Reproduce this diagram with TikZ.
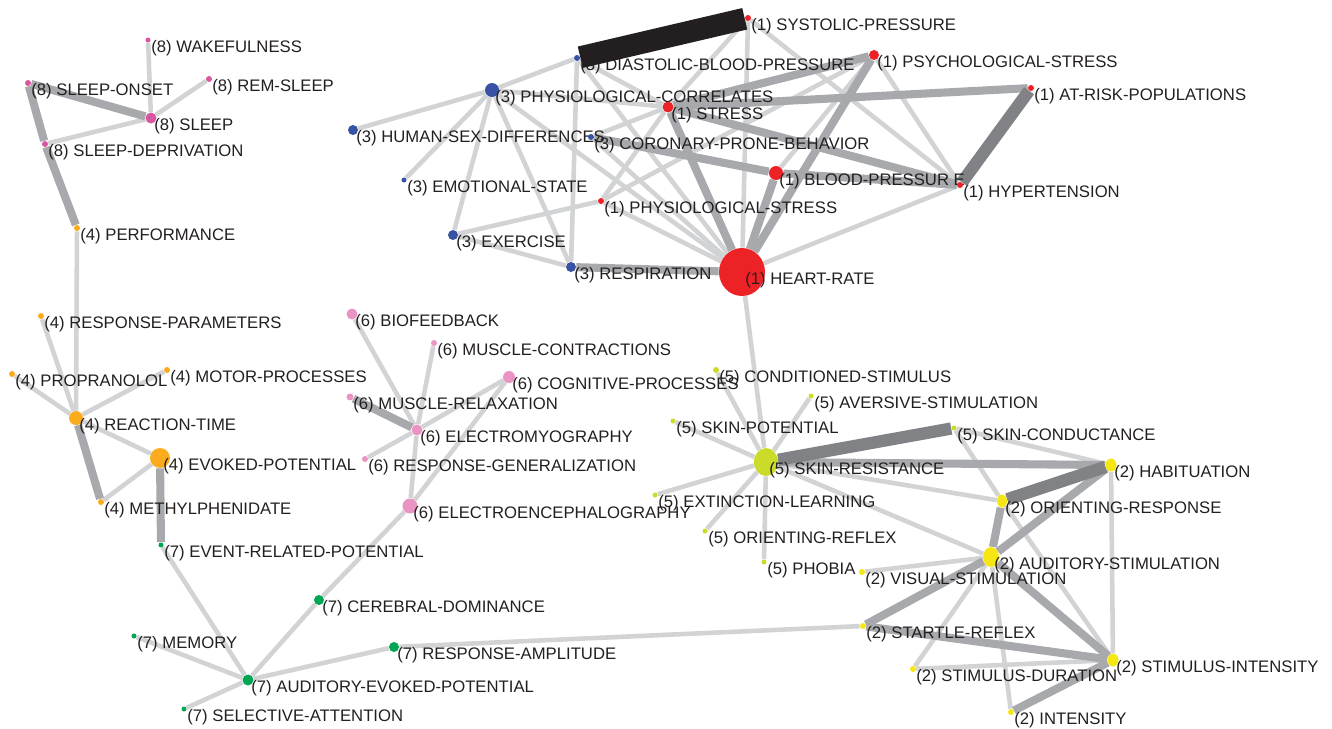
\documentclass[tikz,border=0pt]{standalone}
\usepackage{fontspec}
\setmainfont{Liberation Sans}
\usetikzlibrary{shapes.geometric}

\definecolor{kwred}{HTML}{ED2227}
\definecolor{kwyellow}{HTML}{F6E614}
\definecolor{kwblue}{HTML}{3853A4}
\definecolor{kworange}{HTML}{FAAB1E}
\definecolor{kwlime}{HTML}{CADB2A}
\definecolor{kwpink}{HTML}{EA94C3}
\definecolor{kwgreen}{HTML}{00A651}
\definecolor{kwmagenta}{HTML}{D957A0}
\definecolor{lnlight}{HTML}{D1D3D4}
\definecolor{lnmid}{HTML}{A7A9AC}
\definecolor{lndark}{HTML}{808285}
\definecolor{lnblack}{HTML}{231F20}

\pgfdeclarelayer{edges}
\pgfsetlayers{edges,main}

\begin{document}
\begin{tikzpicture}[x=0.02cm, y=-0.02cm,
    kw/.style={ellipse, inner sep=0pt},
    kwlabel/.style={anchor=base west, inner sep=0pt, text=lnblack,
      font=\fontsize{9.5}{11}\selectfont},
    lt/.style={color=lnlight, line width=2.6pt},
    md/.style={color=lnmid, line width=4.6pt},
    dk/.style={color=lndark, line width=7pt},
    blk/.style={color=lnblack, line width=12.5pt}]
\useasboundingbox (0,0) rectangle (1332,728);

% keywords: name/x/y/width/height/colour/text
\foreach \nm/\x/\y/\w/\h/\c/\t in {
    wake/148/40/5/5/kwmagenta/{(8) WAKEFULNESS},
    onset/28/83/6/6/kwmagenta/{(8) SLEEP-ONSET},
    rem/209/79/6/6/kwmagenta/{(8) REM-SLEEP},
    sleep/151/118/11/11/kwmagenta/{(8) SLEEP},
    sdep/45/144/6/6/kwmagenta/{(8) SLEEP-DEPRIVATION},
    perf/77/228/6/6/kworange/{(4) PERFORMANCE},
    rparam/41/316/6/6/kworange/{(4) RESPONSE-PARAMETERS},
    prop/12/374/6/6/kworange/{(4) PROPRANOLOL},
    motor/167/370/6/6/kworange/{(4) MOTOR-PROCESSES},
    rtime/76/418/14/14/kworange/{(4) REACTION-TIME},
    evoked/160/458/20/20/kworange/{(4) EVOKED-POTENTIAL},
    methyl/101/502/6/6/kworange/{(4) METHYLPHENIDATE},
    erp/161/545/5/5/kwgreen/{(7) EVENT-RELATED-POTENTIAL},
    cereb/319/600/10/10/kwgreen/{(7) CEREBRAL-DOMINANCE},
    memory/134/636/5/5/kwgreen/{(7) MEMORY},
    ramp/394/647/10/10/kwgreen/{(7) RESPONSE-AMPLITUDE},
    aep/248/680/11/11/kwgreen/{(7) AUDITORY-EVOKED-POTENTIAL},
    selatt/184/709/5/5/kwgreen/{(7) SELECTIVE-ATTENTION},
    biofb/352/314/11/11/kwpink/{(6) BIOFEEDBACK},
    mcontr/434/343/6/6/kwpink/{(6) MUSCLE-CONTRACTIONS},
    cogn/509/377/12/12/kwpink/{(6) COGNITIVE-PROCESSES},
    mrelax/350/397/7/7/kwpink/{(6) MUSCLE-RELAXATION},
    emg/417/430/11/11/kwpink/{(6) ELECTROMYOGRAPHY},
    rgen/365/459/6/6/kwpink/{(6) RESPONSE-GENERALIZATION},
    eeg/410/506/15/15/kwpink/{(6) ELECTROENCEPHALOGRAPHY},
    dbp/577/58/6/6/kwblue/{(3) DIASTOLIC-BLOOD-PRESSURE},
    pcorr/492/90/14/14/kwblue/{(3) PHYSIOLOGICAL-CORRELATES},
    hsex/353/130/10/10/kwblue/{(3) HUMAN-SEX-DIFFERENCES},
    cpb/591/137/6/6/kwblue/{(3) CORONARY-PRONE-BEHAVIOR},
    emot/404/180/5/5/kwblue/{(3) EMOTIONAL-STATE},
    exer/453/235/10/10/kwblue/{(3) EXERCISE},
    resp/571/267/10/10/kwblue/{(3) RESPIRATION},
    sbp/748/18/6/6/kwred/{(1) SYSTOLIC-PRESSURE},
    pstress/874/55/10/10/kwred/{(1) PSYCHOLOGICAL-STRESS},
    atrisk/1031/88/6/6/kwred/{(1) AT-RISK-POPULATIONS},
    stress/668/107/11/11/kwred/{(1) STRESS},
    bp/776/173/14/14/kwred/{(1) BLOOD-PRESSUR E},
    hyper/960/185/6/6/kwred/{(1) HYPERTENSION},
    physstress/601/201/6/6/kwred/{(1) PHYSIOLOGICAL-STRESS},
    hr/742/272/46/48/kwred/{(1) HEART-RATE},
    cstim/716/370/6/6/kwlime/{(5) CONDITIONED-STIMULUS},
    avers/811/396/5/5/kwlime/{(5) AVERSIVE-STIMULATION},
    skinpot/673/421/5/5/kwlime/{(5) SKIN-POTENTIAL},
    skincond/954/428/5/5/kwlime/{(5) SKIN-CONDUCTANCE},
    skinres/766/462/24/28/kwlime/{(5) SKIN-RESISTANCE},
    extinct/655/495/5/5/kwlime/{(5) EXTINCTION-LEARNING},
    orefl/705/531/5/5/kwlime/{(5) ORIENTING-REFLEX},
    phobia/764/562/5/5/kwlime/{(5) PHOBIA},
    habit/1111/465/11/13/kwyellow/{(2) HABITUATION},
    oresp/1002/501/10/13/kwyellow/{(2) ORIENTING-RESPONSE},
    audstim/991/557/16/20/kwyellow/{(2) AUDITORY-STIMULATION},
    visstim/862/572/6/6/kwyellow/{(2) VISUAL-STIMULATION},
    startle/863/626/6/6/kwyellow/{(2) STARTLE-REFLEX},
    stimint/1113/660/11/13/kwyellow/{(2) STIMULUS-INTENSITY},
    stimdur/913/669/6/6/kwyellow/{(2) STIMULUS-DURATION},
    intens/1011/712/6/6/kwyellow/{(2) INTENSITY}}
{
  \node [kw, fill=\c, minimum width=\w*0.02cm, minimum height=\h*0.02cm] (\nm) at (\x,\y) {};
  \node [kwlabel] (\nm-l) at ([shift={(3,12.5)}]\nm.center) {\t};
}

\begin{pgfonlayer}{edges}
\path[lt]
  (sleep) edge (wake) edge (rem) edge (sdep)
  (rtime) edge (perf) edge (rparam) edge (prop) edge (motor) edge (evoked)
  (methyl) edge (evoked)
  (aep) edge (erp) edge (memory) edge (selatt) edge (cereb) edge (ramp)
  (cereb) edge (eeg)
  (ramp) edge (startle)
  (emg) edge (biofb) edge (mcontr) edge (cogn) edge (rgen) edge (eeg)
  (cogn) edge (eeg)
  (pcorr) edge (dbp) edge (hsex) edge (emot) edge (exer) edge (resp)
    edge (stress) edge (hr)
  (dbp) edge (resp) edge (hr) edge (stress)
  (exer) edge (resp) edge (physstress)
  (physstress) edge (stress) edge (pstress) edge (hr)
  (cpb) edge (stress) edge (hr)
  (sbp) edge (stress) edge (hr) edge (hyper)
  (pstress) edge (hyper) edge (bp)
  (hyper) edge (hr)
  (hr) edge (skinres)
  (skinres) edge (cstim) edge (avers) edge (skinpot) edge (extinct)
    edge (orefl) edge (phobia) edge (oresp) edge (audstim)
  (skincond) edge (habit) edge (oresp)
  (oresp) edge (stimint)
  (habit) edge (stimint)
  (audstim) edge (visstim) edge (stimdur) edge (intens)
  (stimdur) edge (stimint);
\path[md]
  (onset) edge (sleep) edge (sdep)
  (sdep) edge (perf)
  (rtime) edge (methyl)
  (evoked) edge (erp)
  (emg) edge (mrelax)
  (stress) edge (pstress) edge (atrisk) edge (hr) edge (hyper)
  (cpb) edge (bp)
  (bp) edge (hyper) edge (hr)
  (pstress) edge (hr)
  (resp) edge (hr)
  (skinres) edge (habit)
  (audstim) edge (oresp) edge (habit) edge (startle) edge (stimint)
  (startle) edge (stimint)
  (intens) edge (stimint);
\path[dk]
  (atrisk) edge (hyper)
  (skinres) edge (skincond)
  (habit) edge (oresp);
\path[blk] (dbp) edge (sbp);
\end{pgfonlayer}
\end{tikzpicture}
\end{document}
